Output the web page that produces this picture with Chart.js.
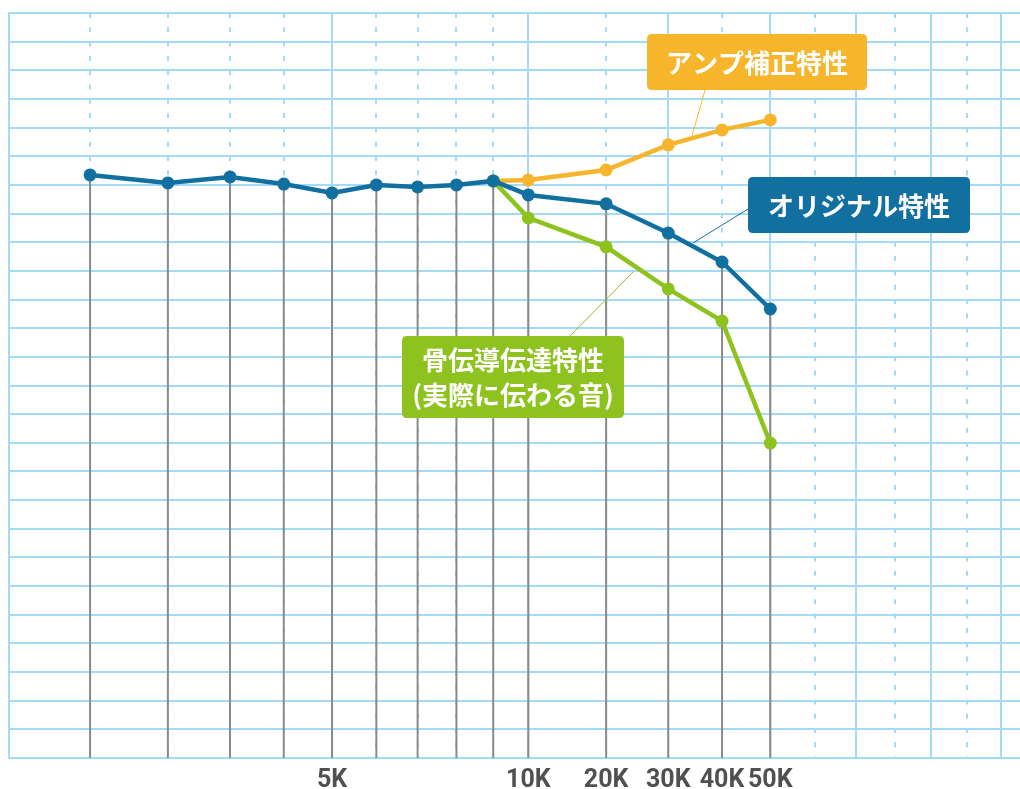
<!DOCTYPE html>
<html>
<head>
<meta charset="utf-8">
<script src="https://cdn.jsdelivr.net/npm/chart.js@4.4.1/dist/chart.umd.min.js"></script>
<style>
  html, body { margin: 0; padding: 0; background: #fff; overflow: hidden; }
  #wrap { width: 1020px; height: 789px; overflow: hidden; }
</style>
</head>
<body>
<!-- canvas is 7px wider than the page: the line controller keeps half a point
     of room at the right edge, the grid in the picture runs to the border -->
<div id="wrap"><canvas id="chart" width="1027" height="789"></canvas></div>
<script>
  // frequencies in kHz, levels in grid rows (0 = bottom line)
  var freqs = [1, 2, 3, 4, 5, 6, 7, 8, 9, 10, 20, 30, 40, 50];
  var original = [20.35, 20.07, 20.28, 20.03, 19.72, 20.0, 19.93, 20.0, 20.14, 19.65, 19.34, 18.32, 17.31, 15.67];
  var ampCorrected = [null, null, null, null, null, null, null, null, 20.14, 20.17, 20.52, 21.4, 21.92, 22.27];
  var boneConducted = [null, null, null, null, null, null, null, null, 20.14, 18.85, 17.84, 16.37, 15.25, 10.99];
  var tickFreqs = [5, 10, 20, 30, 40, 50];
  var solidGridFreqs = [5, 10, 30, 50, 70, 90, 140];
  var dashedGridFreqs = [1, 2, 3, 4, 6, 7, 8, 9, 20, 40, 60, 80, 100];

  var GRID = "#a3daf5";
  var BLUE = "#1170a0";
  var ORANGE = "#f7b52c";
  var GREEN = "#8dc21f";

  // the printed grid squeezes each decade the same way: a power curve per decade
  var P = 0.575;
  var DEN = Math.pow(10, P) - 1;
  function warp(f) {
    var d = Math.floor(Math.log10(f) + 1e-9);
    var b = Math.pow(10, d);
    return d + (Math.pow(f / b, P) - 1) / DEN;
  }
  function unwarp(t) {
    var d = Math.floor(t);
    return Math.pow(10, d) * Math.pow(1 + (t - d) * DEN, 1 / P);
  }
  var X_MIN = unwarp(-0.185);
  var X_MAX = unwarp(2.123);

  class WarpScale extends Chart.Scale {
    determineDataLimits() {
      this.min = this.options.min;
      this.max = this.options.max;
    }
    buildTicks() {
      return (this.options.tickValues || []).map(function (v) { return { value: v }; });
    }
    configure() {
      super.configure();
      this._tStart = warp(this.min);
      this._tRange = warp(this.max) - this._tStart;
    }
    getLabelForValue(v) { return v + "K"; }
    getPixelForValue(v) {
      return this.getPixelForDecimal((warp(v) - this._tStart) / this._tRange);
    }
    getValueForPixel(p) {
      return unwarp(this._tStart + this.getDecimalForPixel(p) * this._tRange);
    }
  }
  WarpScale.id = "warp";
  WarpScale.defaults = {};
  Chart.register(WarpScale);

  function points(values) {
    return freqs.map(function (f, i) { return { x: f, y: values[i] }; });
  }

  function lineSet(label, values, color, order) {
    return {
      label: label,
      data: points(values),
      borderColor: color,
      backgroundColor: color,
      borderWidth: 4.5,
      pointRadius: 6.5,
      pointBorderWidth: 0,
      pointBackgroundColor: color,
      tension: 0,
      order: order,
      clip: false
    };
  }

  var gridAxis = function (values, dash) {
    return {
      type: "warp",
      position: "bottom",
      min: X_MIN,
      max: X_MAX,
      tickValues: values,
      ticks: { display: false },
      grid: { color: GRID, lineWidth: 2, drawTicks: false },
      border: { display: false, dash: dash }
    };
  };

  var dropLines = {
    id: "dropLines",
    beforeDatasetsDraw: function (chart) {
      var meta = chart.getDatasetMeta(2);
      var ctx = chart.ctx;
      var bottom = chart.chartArea.bottom;
      ctx.save();
      ctx.strokeStyle = "#8a8a8a";
      ctx.lineWidth = 2;
      meta.data.forEach(function (pt) {
        ctx.beginPath();
        ctx.moveTo(pt.x, pt.y);
        ctx.lineTo(pt.x, bottom);
        ctx.stroke();
      });
      ctx.restore();
    }
  };

  var callouts = [
    { lines: ["アンプ補正特性"], color: ORANGE, box: [647, 34, 220, 56], lead: [705, 90, 692, 136] },
    { lines: ["オリジナル特性"], color: BLUE, box: [748, 177, 222, 56], lead: [748, 209, 693, 243] },
    { lines: ["骨伝導伝達特性", "(実際に伝わる音)"], color: GREEN, box: [402, 336, 222, 82], lead: [570, 336, 633, 272] }
  ];

  function roundRect(ctx, x, y, w, h, r) {
    ctx.beginPath();
    ctx.moveTo(x + r, y);
    ctx.lineTo(x + w - r, y);
    ctx.quadraticCurveTo(x + w, y, x + w, y + r);
    ctx.lineTo(x + w, y + h - r);
    ctx.quadraticCurveTo(x + w, y + h, x + w - r, y + h);
    ctx.lineTo(x + r, y + h);
    ctx.quadraticCurveTo(x, y + h, x, y + h - r);
    ctx.lineTo(x, y + r);
    ctx.quadraticCurveTo(x, y, x + r, y);
    ctx.closePath();
  }

  var calloutPlugin = {
    id: "callouts",
    afterDatasetsDraw: function (chart) {
      var ctx = chart.ctx;
      ctx.save();
      callouts.forEach(function (c) {
        ctx.strokeStyle = c.color;
        ctx.lineWidth = 1;
        ctx.beginPath();
        ctx.moveTo(c.lead[0], c.lead[1]);
        ctx.lineTo(c.lead[2], c.lead[3]);
        ctx.stroke();
        ctx.fillStyle = c.color;
        roundRect(ctx, c.box[0], c.box[1], c.box[2], c.box[3], 5);
        ctx.fill();
        ctx.fillStyle = "#ffffff";
        ctx.font = "bold 26px 'Noto Sans CJK JP'";
        ctx.textAlign = "center";
        ctx.textBaseline = "middle";
        var cx = c.box[0] + c.box[2] / 2;
        var step = 35;
        var y0 = c.box[1] + c.box[3] / 2 - (c.lines.length - 1) * step / 2;
        c.lines.forEach(function (t, i) {
          ctx.fillText(t, cx, y0 + i * step + 1);
        });
      });
      ctx.restore();
    }
  };

  new Chart(document.getElementById("chart"), {
    type: "line",
    data: {
      datasets: [
        lineSet("アンプ補正特性", ampCorrected, ORANGE, 3),
        lineSet("骨伝導伝達特性", boneConducted, GREEN, 2),
        lineSet("オリジナル特性", original, BLUE, 1)
      ]
    },
    options: {
      responsive: false,
      animation: false,
      events: [],
      devicePixelRatio: 1,
      layout: { padding: { left: 9, top: 13, right: 0, bottom: 0 } },
      plugins: { legend: { display: false }, tooltip: { enabled: false } },
      scales: {
        x: {
          type: "warp",
          position: "bottom",
          min: X_MIN,
          max: X_MAX,
          tickValues: tickFreqs,
          grid: { display: false, drawTicks: false },
          border: { display: false },
          afterFit: function (scale) { scale.height = 31; },
          ticks: {
            autoSkip: false,
            maxRotation: 0,
            minRotation: 0,
            padding: 15,
            color: "#505050",
            font: { family: "Roboto", size: 25, weight: "bold", lineHeight: "15px" },
            callback: function (v) { return v + "K"; }
          }
        },
        xs: gridAxis(solidGridFreqs, []),
        xd: gridAxis(dashedGridFreqs, [5, 9.3]),
        y: {
          type: "linear",
          min: 0,
          max: 26,
          ticks: { display: false, stepSize: 1 },
          grid: { color: GRID, lineWidth: 2, drawTicks: false },
          border: { display: true, color: GRID, width: 2 }
        }
      }
    },
    plugins: [dropLines, calloutPlugin]
  });
</script>
</body>
</html>
